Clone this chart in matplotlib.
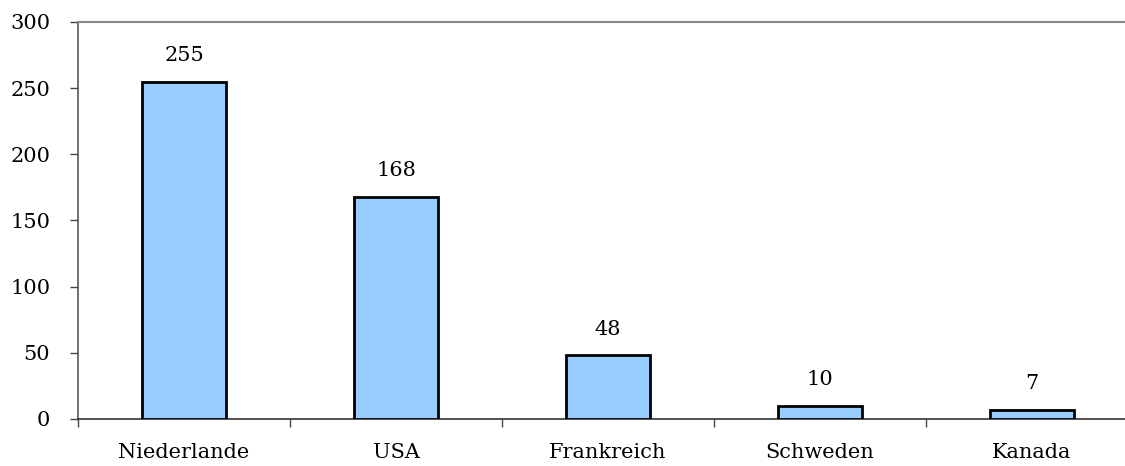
import matplotlib
matplotlib.use("Agg")
import matplotlib.pyplot as plt
import numpy as np

countries = ["Niederlande", "USA", "Frankreich", "Schweden", "Kanada"]
counts = [255, 168, 48, 10, 7]
yticks = [0, 50, 100, 150, 200, 250, 300]

plt.rcParams['font.family'] = ['DejaVu Serif']
fs = 15

fig = plt.figure(figsize=(11.25, 4.66), dpi=100)
# plot area runs past the right edge of the picture, as in the original
ax = fig.add_axes([78/1125, 47/466, 1060/1125, 397/466])

x = np.arange(len(countries))
ax.bar(x, counts, width=0.4, color='#99CCFF', edgecolor='black', linewidth=2, zorder=3)

for xi, v in zip(x, counts):
    ax.annotate(str(v), (xi, v), xytext=(0, 12), textcoords='offset points',
                ha='center', va='bottom', fontsize=fs)

ax.set_xlim(-0.5, len(countries) - 0.5)
ax.set_ylim(0, 300)
ax.set_yticks(yticks)
ax.tick_params(axis='y', labelsize=fs, length=6, width=1, color='#444444', pad=14)

# category labels centred, tick marks on the boundaries
ax.set_xticks(x)
ax.set_xticklabels(countries, fontsize=fs)
ax.tick_params(axis='x', which='major', length=0, pad=17)
ax.set_xticks(np.arange(len(countries) + 1) - 0.5, minor=True)
ax.tick_params(axis='x', which='minor', length=6, width=1, color='#444444')

ax.spines['right'].set_visible(False)
ax.spines['top'].set_color('#888888')
ax.spines['top'].set_linewidth(1.5)
ax.spines['left'].set_color('#555555')
ax.spines['left'].set_linewidth(1.2)
ax.spines['bottom'].set_color('#333333')
ax.spines['bottom'].set_linewidth(1.2)

fig.savefig('out.png', dpi=100)
